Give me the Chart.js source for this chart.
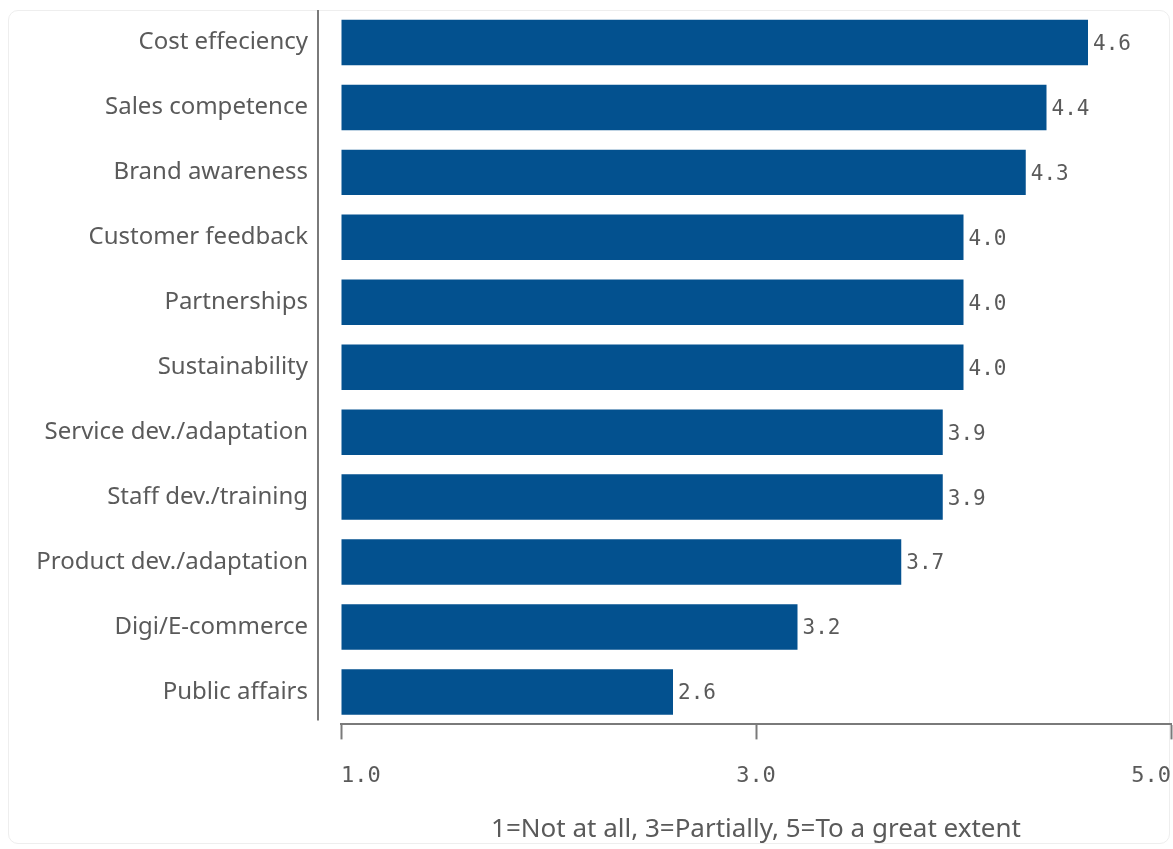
<!DOCTYPE html>
<html>
<head>
<meta charset="utf-8">
<script src="https://cdn.jsdelivr.net/npm/chart.js@4"></script>
<style>
  html, body { margin: 0; padding: 0; background: #fff; overflow: hidden; }
  .card {
    position: absolute; left: 8px; top: 10px; right: 3px; bottom: 5px;
    border: 1px solid #eeeeee; border-radius: 10px;
  }
  #wrap { position: absolute; left: 0; top: 0; width: 1173px; height: 849px; }
</style>
</head>
<body>
<div class="card"></div>
<div id="wrap"><canvas id="chart"></canvas></div>
<script>
const CATEGORIES = [
  'Cost effeciency',
  'Sales competence',
  'Brand awareness',
  'Customer feedback',
  'Partnerships',
  'Sustainability',
  'Service dev./adaptation',
  'Staff dev./training',
  'Product dev./adaptation',
  'Digi/E-commerce',
  'Public affairs'
];
const SCORES = [4.6, 4.4, 4.3, 4.0, 4.0, 4.0, 3.9, 3.9, 3.7, 3.2, 2.6];
const TICK_VALUES = [1, 3, 5];
const AXIS_TITLE = '1=Not at all, 3=Partially, 5=To a great extent';

const BAR_COLOR = '#03518f';
const TEXT_COLOR = '#5a5a5a';
const AXIS_COLOR = '#7a7a7a';
const LABEL_FONT = 'Noto Sans, sans-serif';
const NUM_FONT = 'DejaVu Sans Mono, monospace';

// value text to the right of each bar
const valueLabels = {
  id: 'valueLabels',
  afterDatasetsDraw(chart) {
    const { ctx } = chart;
    const meta = chart.getDatasetMeta(0);
    ctx.save();
    ctx.font = `21px ${NUM_FONT}`;
    ctx.fillStyle = TEXT_COLOR;
    ctx.textAlign = 'left';
    ctx.textBaseline = 'middle';
    meta.data.forEach((bar, i) => {
      ctx.fillText(SCORES[i].toFixed(1), bar.x + 5, bar.y + 2);
    });
    ctx.restore();
  }
};

// vertical category axis line, set off to the left of the bars
const categoryLine = {
  id: 'categoryLine',
  afterDraw(chart) {
    const { ctx, chartArea } = chart;
    const x = chartArea.left - 23;
    ctx.save();
    ctx.strokeStyle = AXIS_COLOR;
    ctx.lineWidth = 2;
    ctx.beginPath();
    ctx.moveTo(x, chartArea.top);
    ctx.lineTo(x, chartArea.bottom - 4);
    ctx.stroke();
    ctx.restore();
  }
};

new Chart(document.getElementById('chart'), {
  type: 'bar',
  data: {
    labels: CATEGORIES,
    datasets: [{
      data: SCORES,
      base: 1,
      backgroundColor: BAR_COLOR,
      borderWidth: 0,
      categoryPercentage: 1,
      barPercentage: 0.7
    }]
  },
  options: {
    indexAxis: 'y',
    responsive: true,
    maintainAspectRatio: false,
    animation: false,
    layout: { padding: { top: 10, right: 2, bottom: 0, left: 0 } },
    plugins: {
      legend: { display: false },
      tooltip: { enabled: false }
    },
    scales: {
      x: {
        min: 1,
        max: 5,
        afterBuildTicks(scale) {
          scale.ticks = TICK_VALUES.map(v => ({ value: v }));
        },
        afterFit(scale) {
          scale.paddingLeft = 0;
          scale.paddingRight = 0;
        },
        grid: {
          drawOnChartArea: false,
          drawTicks: true,
          tickLength: 15,
          tickWidth: 2,
          tickColor: AXIS_COLOR
        },
        border: { display: true, color: AXIS_COLOR, width: 2 },
        ticks: {
          align: 'inner',
          padding: 24,
          maxRotation: 0,
          color: TEXT_COLOR,
          font: { family: NUM_FONT, size: 22 },
          callback: v => Number(v).toFixed(1)
        },
        title: {
          display: true,
          text: AXIS_TITLE,
          color: TEXT_COLOR,
          font: { family: LABEL_FONT, size: 26 },
          padding: { top: 0, bottom: 4 }
        }
      },
      y: {
        afterFit(scale) {
          scale.width = 341;
          scale.paddingTop = 0;
          scale.paddingBottom = 0;
        },
        grid: { display: false, drawTicks: false },
        border: { display: false },
        ticks: {
          padding: 33,
          color: TEXT_COLOR,
          font: { family: LABEL_FONT, size: 24 }
        }
      }
    }
  },
  plugins: [valueLabels, categoryLine]
});
</script>
</body>
</html>
